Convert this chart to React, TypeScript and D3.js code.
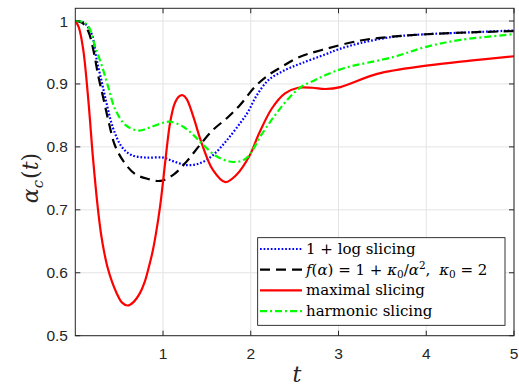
import React from "react";
import * as d3 from "d3";

const xTicks = [1, 2, 3, 4, 5];
const yTicks = [0.5, 0.6, 0.7, 0.8, 0.9, 1];
const yTickLabels = ["0.5", "0.6", "0.7", "0.8", "0.9", "1"];

const logT = [0,0.06,0.11,0.19,0.24,0.30,0.36,0.43,0.53,0.64,0.80,1.0,1.12,1.27,1.42,1.57,1.73,1.88,1.97,2.06,2.2,2.39,2.58,2.85,3.0,3.25,3.63,4.0,4.5,5];
const logY = [1,0.999,0.996,0.978,0.941,0.904,0.867,0.830,0.800,0.787,0.783,0.783,0.777,0.771,0.774,0.787,0.811,0.838,0.856,0.88,0.906,0.922,0.933,0.947,0.955,0.965,0.975,0.979,0.982,0.985];

const kapT = [0,0.08,0.15,0.21,0.26,0.32,0.38,0.45,0.55,0.68,0.83,0.97,1.12,1.27,1.42,1.57,1.73,1.88,2.05,2.2,2.35,2.54,2.81,3.25,3.6,4.0,4.5,5];
const kapY = [1,0.997,0.983,0.951,0.914,0.877,0.840,0.803,0.777,0.757,0.749,0.746,0.756,0.777,0.803,0.827,0.846,0.867,0.896,0.914,0.927,0.942,0.954,0.969,0.975,0.979,0.982,0.984];

const maxT = [0,0.04,0.09,0.15,0.20,0.255,0.293,0.33,0.365,0.42,0.47,0.53,0.597,0.66,0.738,0.79,0.84,0.88,0.92,0.966,1.0,1.04,1.08,1.13,1.18,1.225,1.27,1.345,1.44,1.57,1.71,1.84,1.99,2.09,2.24,2.39,2.54,2.70,2.85,3.02,3.44,4.0,4.5,5];
const maxY = [1,0.99,0.955,0.872,0.785,0.705,0.662,0.632,0.61,0.585,0.568,0.553,0.548,0.553,0.568,0.585,0.61,0.633,0.663,0.705,0.745,0.795,0.838,0.868,0.88,0.882,0.876,0.848,0.806,0.763,0.744,0.756,0.787,0.82,0.861,0.885,0.894,0.894,0.892,0.895,0.916,0.929,0.937,0.944];

const harT = [0,0.08,0.13,0.17,0.22,0.30,0.38,0.45,0.57,0.72,0.87,1.02,1.08,1.23,1.345,1.46,1.61,1.80,1.95,2.12,2.28,2.43,2.58,2.73,2.85,3.06,3.63,4.0,4.39,5];
const harY = [1,0.999,0.995,0.986,0.962,0.930,0.893,0.861,0.835,0.826,0.832,0.839,0.840,0.832,0.819,0.803,0.785,0.776,0.782,0.819,0.851,0.877,0.896,0.906,0.914,0.925,0.943,0.959,0.970,0.979];

const series = [
  { name: "log", t: logT, y: logY, color: "#0000ff", dash: "1.7,1.9" },
  { name: "kappa", t: kapT, y: kapY, color: "#000000", dash: "10,6" },
  { name: "maximal", t: maxT, y: maxY, color: "#ff0000", dash: "" },
  { name: "harmonic", t: harT, y: harY, color: "#00ff00", dash: "7,3,2,3" },
];

export default function App() {
  const L = 75.3, R = 514, T = 8.3, B = 335.7;
  const x = d3.scaleLinear().domain([0, 5]).range([L, R]);
  const y = d3.scaleLinear().domain([0.5, 1.0202]).range([B, T]);
  const axisColor = "#262626";
  const gridColor = "#e3e3e3";
  const tickFont = "Liberation Sans, Arial, sans-serif";
  const serif = "DejaVu Serif";

  const line = (ts: number[], ys: number[]) =>
    d3.line<number>()
      .x((_, i) => x(ts[i]))
      .y((v) => y(v))
      .curve(d3.curveCatmullRom.alpha(0.5))(ys) || "";

  const legendRows = [0, 1, 2, 3].map((i) => 249 + i * 20.7);

  return (
    <svg width={519} height={389} style={{ position: "absolute", left: 0, top: 0, background: "#fff" }}>
      <rect x={0} y={0} width={519} height={389} fill="#fff" />
      <defs>
        <clipPath id="plotclip">
          <rect x={L} y={T} width={R - L} height={B - T} />
        </clipPath>
      </defs>
      {xTicks.map((v) => (
        <line key={"gx" + v} x1={x(v)} x2={x(v)} y1={T} y2={B} stroke={gridColor} strokeWidth={1} />
      ))}
      {yTicks.map((v) => (
        <line key={"gy" + v} x1={L} x2={R} y1={y(v)} y2={y(v)} stroke={gridColor} strokeWidth={1} />
      ))}
      <g clipPath="url(#plotclip)">
        {series.map((s) => (
          <path key={s.name} d={line(s.t, s.y)} fill="none" stroke={s.color} strokeWidth={2.2}
            strokeDasharray={s.dash || undefined} strokeLinejoin="round" />
        ))}
      </g>
      <rect x={L} y={T} width={R - L} height={B - T} fill="none" stroke={axisColor} strokeWidth={1} />
      {xTicks.map((v) => (
        <g key={"tx" + v}>
          <line x1={x(v)} x2={x(v)} y1={B} y2={B - 5} stroke={axisColor} />
          <line x1={x(v)} x2={x(v)} y1={T} y2={T + 5} stroke={axisColor} />
          <text x={x(v)} y={359} textAnchor="middle" style={{ fontFamily: tickFont, fontSize: 15.5 }} fill={axisColor}>{v}</text>
        </g>
      ))}
      {yTicks.map((v, i) => (
        <g key={"ty" + v}>
          <line x1={L} x2={L + 5} y1={y(v)} y2={y(v)} stroke={axisColor} />
          <line x1={R} x2={R - 5} y1={y(v)} y2={y(v)} stroke={axisColor} />
          <text x={68} y={y(v) + 5.5} textAnchor="end" style={{ fontFamily: tickFont, fontSize: 15.5 }} fill={axisColor}>{yTickLabels[i]}</text>
        </g>
      ))}
      <text x={297} y={382} textAnchor="middle" style={{ fontFamily: serif, fontStyle: "italic", fontSize: 22 }} fill={axisColor}>t</text>
      <text transform="translate(38,178) rotate(-90)" textAnchor="middle" style={{ fontFamily: serif, fontSize: 22 }} fill={axisColor}>
        <tspan style={{ fontStyle: "italic" }}>α</tspan>
        <tspan style={{ fontStyle: "italic", fontSize: 15 }} dy={5}>c</tspan>
        <tspan dy={-5} dx={1}>(</tspan>
        <tspan style={{ fontStyle: "italic" }}>t</tspan>
        <tspan>)</tspan>
      </text>
      <rect x={257.7} y={237.7} width={247.3} height={87.6} fill="#fff" stroke="#000" strokeWidth={0.8} />
      {series.map((s, i) => (
        <line key={"lg" + s.name} x1={260} x2={302} y1={legendRows[i]} y2={legendRows[i]} stroke={s.color}
          strokeWidth={2.2} strokeDasharray={s.dash || undefined} />
      ))}
      <g style={{ fontFamily: serif, fontSize: 15 }} fill="#000">
        <text x={306} y={legendRows[0] + 5}>1 + log slicing</text>
        <text x={306} y={legendRows[1] + 5}>
          <tspan style={{ fontStyle: "italic" }}>f</tspan>(<tspan style={{ fontStyle: "italic" }}>α</tspan>) = 1 + <tspan style={{ fontStyle: "italic" }}>κ</tspan>
          <tspan style={{ fontSize: 10.5 }} dy={3}>0</tspan>
          <tspan dy={-3}>/</tspan><tspan style={{ fontStyle: "italic" }}>α</tspan>
          <tspan style={{ fontSize: 10.5 }} dy={-6}>2</tspan>
          <tspan dy={6}>, </tspan><tspan style={{ fontStyle: "italic" }} dx={4}>κ</tspan>
          <tspan style={{ fontSize: 10.5 }} dy={3}>0</tspan>
          <tspan dy={-3}> = 2</tspan>
        </text>
        <text x={306} y={legendRows[2] + 5}>maximal slicing</text>
        <text x={306} y={legendRows[3] + 5}>harmonic slicing</text>
      </g>
    </svg>
  );
}
